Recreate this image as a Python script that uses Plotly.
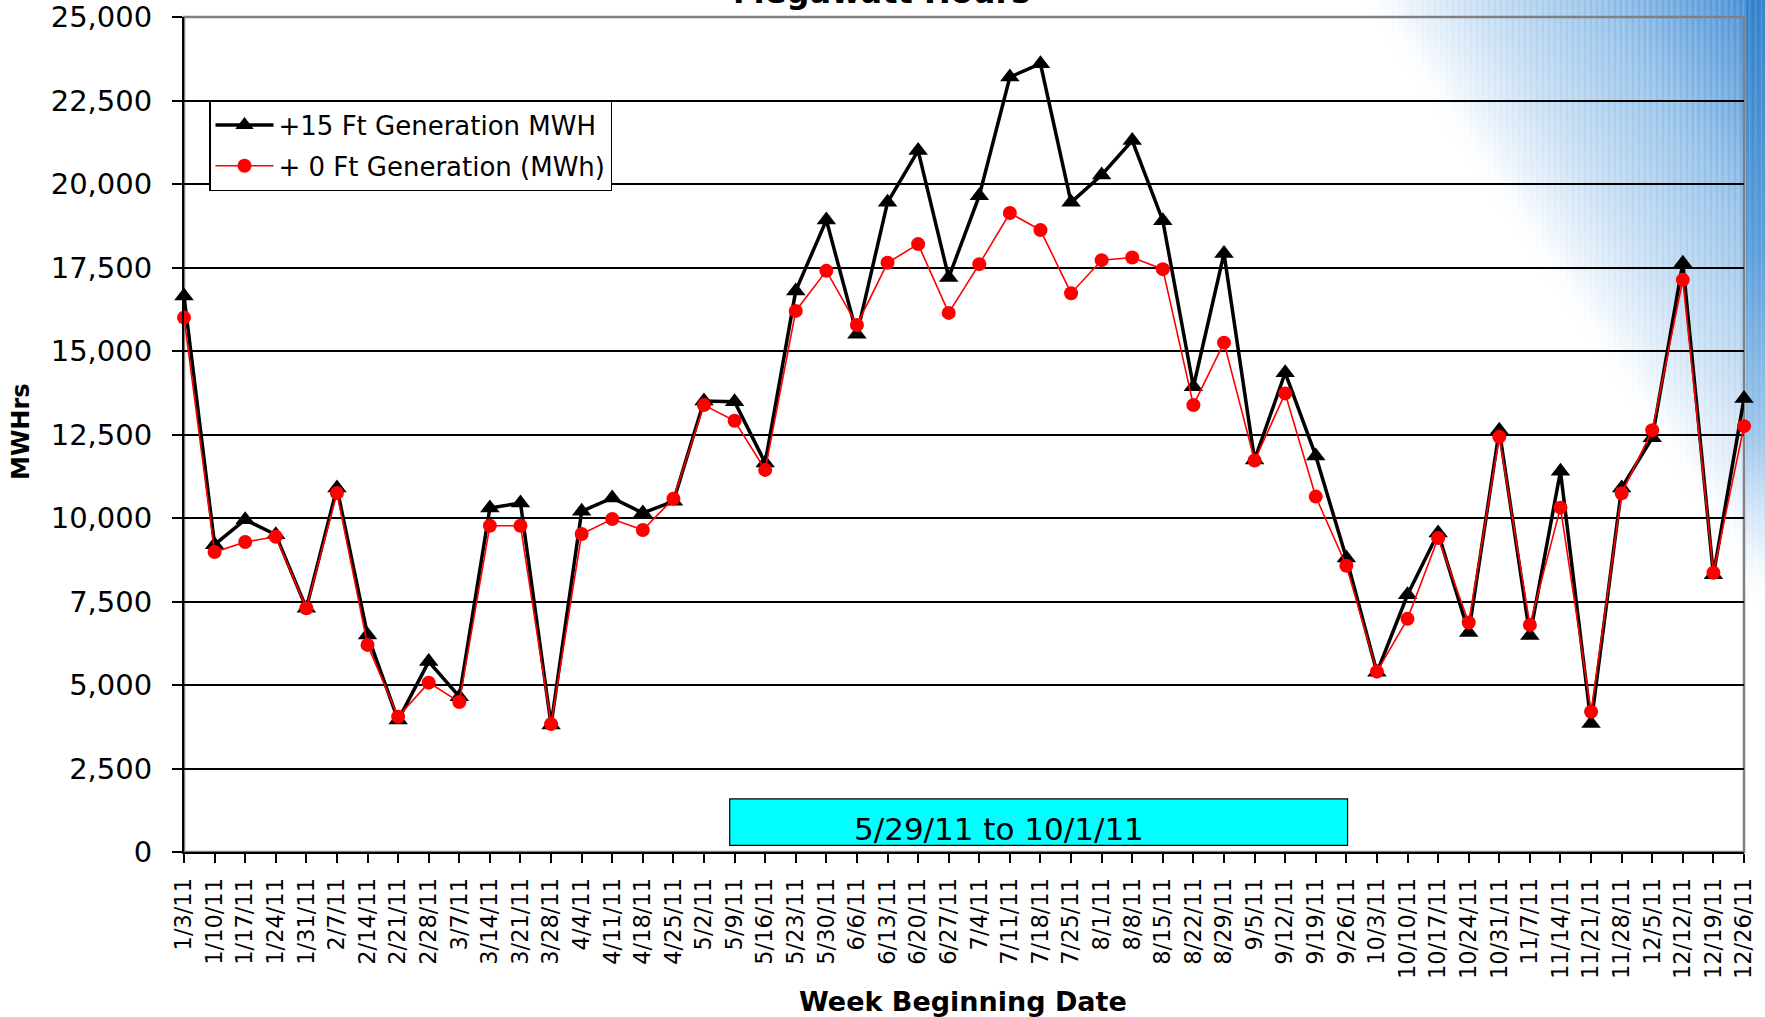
import base64
import plotly.graph_objects as go

# ---------------- data ----------------
weeks = ["1/3/11", "1/10/11", "1/17/11", "1/24/11", "1/31/11", "2/7/11", "2/14/11", "2/21/11",
         "2/28/11", "3/7/11", "3/14/11", "3/21/11", "3/28/11", "4/4/11", "4/11/11", "4/18/11",
         "4/25/11", "5/2/11", "5/9/11", "5/16/11", "5/23/11", "5/30/11", "6/6/11", "6/13/11",
         "6/20/11", "6/27/11", "7/4/11", "7/11/11", "7/18/11", "7/25/11", "8/1/11", "8/8/11",
         "8/15/11", "8/22/11", "8/29/11", "9/5/11", "9/12/11", "9/19/11", "9/26/11", "10/3/11",
         "10/10/11", "10/17/11", "10/24/11", "10/31/11", "11/7/11", "11/14/11", "11/21/11",
         "11/28/11", "12/5/11", "12/12/11", "12/19/11", "12/26/11"]

gen_plus15 = [16650, 9200, 9950, 9500, 7300, 10900, 6500, 3950, 5700, 4650, 10300, 10450, 3800,
              10200, 10600, 10150, 10500, 13500, 13480, 11650, 16800, 18920, 15500, 19450, 21000,
              17200, 19650, 23200, 23600, 19450, 20270, 21300, 18900, 13930, 17920, 11740, 14350,
              11860, 8800, 5380, 7700, 9550, 6570, 12630, 6480, 11400, 3850, 10900, 12400, 17630,
              8300, 13580]

gen_plus0 = [16000, 8980, 9280, 9440, 7300, 10750, 6200, 4050, 5070, 4490, 9770, 9770, 3830,
             9520, 9970, 9640, 10580, 13380, 12910, 11440, 16200, 17400, 15780, 17640, 18200,
             16140, 17600, 19130, 18620, 16730, 17720, 17800, 17450, 13380, 15250, 11720, 13730,
             10640, 8570, 5400, 6980, 9400, 6870, 12430, 6800, 10310, 4200, 10740, 12630, 17130,
             8360, 12750]

series_names = ["+15 Ft Generation MWH", "+ 0 Ft Generation (MWh)"]
y_ticks = [0, 2500, 5000, 7500, 10000, 12500, 15000, 17500, 20000, 22500, 25000]
period_label = "5/29/11 to 10/1/11"
chart_title = "Megawatt Hours"
x_title = "Week Beginning Date"
y_title = "MWHrs"

# ---------------- layout constants ----------------
W, H = 1765, 1017
ML, MR, MT, MB = 184, 21, 17, 165
PW, PH = W - ML - MR, H - MT - MB
FONT = "DejaVu Sans"

# background gradient (top-right blue glow)
svg = (
    f'<svg xmlns="http://www.w3.org/2000/svg" width="{W}" height="{H}" viewBox="0 0 {W} {H}">'
    '<defs><linearGradient id="g" gradientUnits="userSpaceOnUse" x1="1480" y1="190" x2="1765" y2="0">'
    '<stop offset="0" stop-color="#ffffff" stop-opacity="0"/>'
    '<stop offset="0.12" stop-color="#eef5fc" stop-opacity="1"/>'
    '<stop offset="0.3" stop-color="#cde2f5"/>'
    '<stop offset="0.6" stop-color="#a0c8ec"/>'
    '<stop offset="0.91" stop-color="#5e9edb"/>'
    '<stop offset="1" stop-color="#3f88cf"/>'
    '</linearGradient>'
    '<linearGradient id="s" gradientUnits="userSpaceOnUse" x1="0" y1="0" x2="0" y2="620">'
    '<stop offset="0" stop-color="#3a86cc" stop-opacity="1"/>'
    '<stop offset="0.4" stop-color="#62a3dc" stop-opacity="1"/>'
    '<stop offset="0.7" stop-color="#9cc6ec" stop-opacity="0.9"/>'
    '<stop offset="1" stop-color="#ffffff" stop-opacity="0"/>'
    '</linearGradient>'
    '<pattern id="p" width="6" height="10" patternUnits="userSpaceOnUse">'
    '<rect x="0" y="0" width="2" height="10" fill="#1f5fa8" fill-opacity="0.14"/>'
    '<rect x="3" y="0" width="1" height="10" fill="#ffffff" fill-opacity="0.14"/>'
    '</pattern>'
    '<linearGradient id="gm" gradientUnits="userSpaceOnUse" x1="1480" y1="190" x2="1765" y2="0">'
    '<stop offset="0" stop-color="#000"/><stop offset="1" stop-color="#fff"/></linearGradient>'
    '<mask id="m"><rect width="100%" height="100%" fill="url(#gm)"/></mask>'
    '</defs>'
    f'<rect width="{W}" height="{H}" fill="url(#g)"/>'
    f'<rect x="1746" y="0" width="{W - 1746}" height="{H}" fill="url(#s)"/>'
    f'<rect width="{W}" height="{H}" fill="url(#p)" mask="url(#m)"/>'
    '</svg>'
)
svg_uri = "data:image/svg+xml;base64," + base64.b64encode(svg.encode()).decode()

fig = go.Figure()

fig.add_trace(go.Scatter(
    x=weeks, y=gen_plus15, name=series_names[0], mode="lines+markers",
    line=dict(color="black", width=3.5),
    marker=dict(symbol="triangle-up", size=17, color="black"),
    cliponaxis=False, legendgroup="a",
))
fig.add_trace(go.Scatter(
    x=weeks, y=gen_plus0, name=series_names[1], mode="lines+markers",
    line=dict(color="#ff0000", width=1.6),
    marker=dict(symbol="circle", size=14, color="#ff0000"),
    cliponaxis=False, legendgroup="b",
))

fig.update_layout(
    width=W, height=H,
    margin=dict(l=ML, r=MR, t=MT, b=MB, autoexpand=False),
    paper_bgcolor="white",
    plot_bgcolor="rgba(0,0,0,0)",
    font=dict(family=FONT, color="black"),
    showlegend=True,
    legend=dict(
        x=(209 - ML) / PW, y=(MT + PH - 100) / PH, xanchor="left", yanchor="top",
        bgcolor="white", bordercolor="black", borderwidth=1.5,
        font=dict(family=FONT, size=26, color="black"),
        traceorder="grouped", tracegroupgap=4, itemwidth=58,
    ),
    images=[dict(
        source=svg_uri, xref="paper", yref="paper",
        x=-ML / PW, y=1 + MT / PH, sizex=W / PW, sizey=H / PH,
        xanchor="left", yanchor="top", sizing="stretch", layer="below",
    )],
    xaxis=dict(
        type="category", range=[0, len(weeks) - 1], automargin=False,
        showline=True, linecolor="black", linewidth=2,
        ticks="outside", ticklen=9, tickwidth=1.5, tickcolor="black",
        tickangle=-90, tickfont=dict(family=FONT, size=22.5, color="black"),
        showgrid=False, zeroline=False, ticklabelstandoff=6,
    ),
    yaxis=dict(
        range=[0, 25000], tickvals=y_ticks, tickformat=",d", automargin=False,
        showline=True, linecolor="black", linewidth=2,
        ticks="outside", ticklen=10, tickwidth=1.5, tickcolor="black",
        tickfont=dict(family=FONT, size=29, color="black"),
        showgrid=True, gridcolor="black", gridwidth=1.5, zeroline=False,
        ticklabelstandoff=14,
    ),
    shapes=[
        dict(type="rect", xref="paper", yref="paper", x0=0, x1=1, y0=0, y1=1,
             line=dict(color="#808080", width=2.5), fillcolor="rgba(0,0,0,0)", layer="between"),
        dict(type="rect", xref="x", yref="y", x0=17.84, x1=38.04, y0=200, y1=1590,
             line=dict(color="black", width=1.2), fillcolor="#00ffff", layer="above"),
    ],
    annotations=[
        dict(text=period_label, x=26.64, y=700, xref="x", yref="y", showarrow=False,
             font=dict(family=FONT, size=31, color="black"), xanchor="center", yanchor="middle"),
        dict(text=chart_title, x=(881 - ML) / PW, y=1, xref="paper", yref="paper",
             showarrow=False, xanchor="center", yanchor="bottom", yshift=4,
             font=dict(family=FONT, size=32, color="black", weight="bold")),
        dict(text=x_title, x=(963 - ML) / PW, y=(MT + PH - 1001) / PH, xref="paper", yref="paper",
             showarrow=False, xanchor="center", yanchor="middle",
             font=dict(family=FONT, size=27, color="black", weight="bold")),
        dict(text=y_title, x=(21 - ML) / PW, y=(MT + PH - 432) / PH, xref="paper", yref="paper",
             showarrow=False, xanchor="center", yanchor="middle", textangle=-90,
             font=dict(family=FONT, size=24, color="black", weight="bold")),
    ],
)

fig.write_html(
    "out.html",
    config={"displayModeBar": False},
    post_script="document.body.style.margin='0';document.body.style.overflow='hidden';",
)
